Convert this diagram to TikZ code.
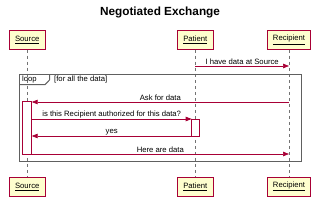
\documentclass[tikz,border=0pt]{standalone}
\usepackage{fontspec}
\setmainfont{Liberation Sans}
\usetikzlibrary{arrows.meta}
\definecolor{pborder}{HTML}{A80036}
\definecolor{pfill}{HTML}{FEFECE}
\begin{document}
\begin{tikzpicture}[x=1pt,y=-1pt,
  part/.style={draw=pborder,fill=pfill,line width=0.9pt,minimum height=18.6pt,inner sep=0pt,font=\fontsize{7.7}{9}\selectfont},
  life/.style={draw=gray!90!black,dash pattern=on 3pt off 3pt,line width=0.6pt},
  msg/.style={draw=pborder,line width=0.7pt,-{Triangle[length=6pt,width=4.5pt]}},
  lbl/.style={font=\fontsize{7.7}{9}\selectfont,anchor=south,inner sep=1pt},
  actbar/.style={draw=pborder,fill=white,line width=0.7pt,inner sep=0pt},
  framebox/.style={draw=gray!75!black,line width=1pt},
]
\useasboundingbox (0,0) rectangle (320,211);
\node[font=\bfseries\fontsize{11.8}{14}\selectfont] (title) at (160,12.5) {Negotiated Exchange};

% participants
\node[part,minimum width=36pt] (srcT) at (27.2,40) {\underline{Source}};
\node[part,minimum width=36pt] (patT) at (195.3,40) {\underline{Patient}};
\node[part,minimum width=43.4pt] (recT) at (289,40) {\underline{Recipient}};
\node[part,minimum width=36pt] (srcB) at (27.2,186.7) {\underline{Source}};
\node[part,minimum width=36pt] (patB) at (195.3,186.7) {\underline{Patient}};
\node[part,minimum width=43.4pt] (recB) at (289,186.7) {\underline{Recipient}};

% lifelines
\draw[life] (srcT.south) -- (srcB.north);
\draw[life] (patT.south) -- (patB.north);
\draw[life] (recT.south) -- (recB.north);

% loop frame
\draw[framebox] (19.3,74.3) rectangle (301,161.7);
\draw[framebox] (19.3,84.7) -- (45,84.7) -- (49.5,80) -- (49.5,74.3);
\node[font=\fontsize{7.7}{9}\selectfont,anchor=west,inner sep=0pt] (looplbl) at (22,79.5) {loop};
\node[font=\fontsize{7.7}{9}\selectfont,anchor=west,inner sep=0pt] (loopcond) at (54,79.5) {[for all the data]};

% activation bars
\node[actbar,minimum width=9pt,minimum height=53pt] (srcact) at (27.2,127.5) {};
\node[actbar,minimum width=7.6pt,minimum height=17pt] (patact) at (195.5,127.5) {};

% message end points
\coordinate (m1a) at (195.3,66);
\coordinate (m1b) at (289,66);
\coordinate (m2a) at (289,102);
\coordinate (m2b) at (31.7,102);
\coordinate (m3a) at (31.7,119);
\coordinate (m3b) at (191.7,119);
\coordinate (m4a) at (191.7,136);
\coordinate (m4b) at (31.7,136);
\coordinate (m5a) at (31.7,154);
\coordinate (m5b) at (289,154);

\draw[msg] (m1a) -- node[lbl] {I have data at Source} (m1b);
\draw[msg] (m2a) -- node[lbl] {Ask for data} (m2b);
\draw[msg] (m3a) -- node[lbl] {is this Recipient authorized for this data?} (m3b);
\draw[msg] (m4a) -- node[lbl] {yes} (m4b);
\draw[msg] (m5a) -- node[lbl] {Here are data} (m5b);
\end{tikzpicture}
\end{document}
